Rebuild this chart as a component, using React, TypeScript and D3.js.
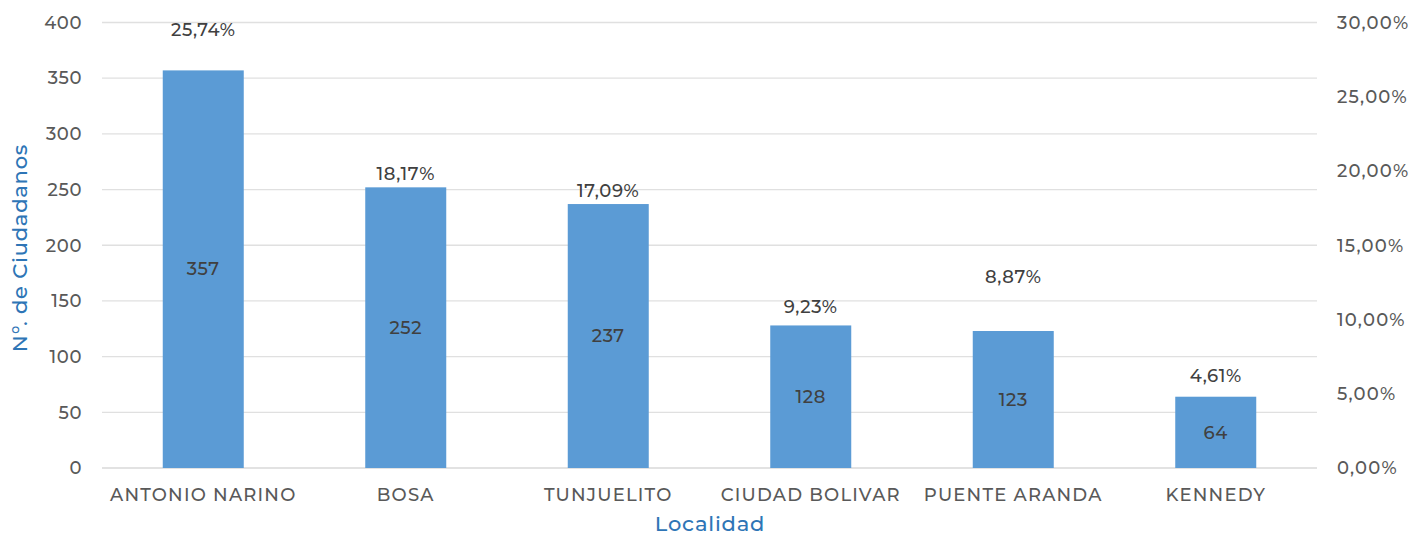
import React from "react";
import * as d3 from "d3";

const categories = ["ANTONIO NARINO", "BOSA", "TUNJUELITO", "CIUDAD BOLIVAR", "PUENTE ARANDA", "KENNEDY"];
const counts = [357, 252, 237, 128, 123, 64];
const percents = [25.74, 18.17, 17.09, 9.23, 8.87, 4.61];
const leftTicks = [0, 50, 100, 150, 200, 250, 300, 350, 400];
const rightTicks = [0, 5, 10, 15, 20, 25, 30];
// label placement tweaks (pixels above the secondary-axis point)
const pctLabelDy = [-56, -24, -24, -24, -60, -24];

const W = 1419, H = 535;
const M = { left: 102, right: 1317, top: 22.5, bottom: 468 };
const FONT = "Montserrat, 'Open Sans', 'Noto Sans', sans-serif";
const TXT = "#595959";
const BLUE = "#5B9BD5";
const TITLE = "#2E75B6";
const FS = 18;
const LS = 0.6;

export default function App() {
  const x = d3.scaleBand<string>().domain(categories).range([M.left, M.right]).paddingInner(0.6).paddingOuter(0.3);
  const y = d3.scaleLinear().domain([0, 400]).range([M.bottom, M.top]);
  const y2 = d3.scaleLinear().domain([0, 30]).range([M.bottom, M.top]);
  const fmt = (v: number) => v.toFixed(2).replace(".", ",") + "%";

  return (
    <svg width={W} height={H} style={{ position: "absolute", left: 0, top: 0, background: "#fff" }} fontFamily={FONT} fontWeight={500}>
      {leftTicks.map((t) => (
        <line key={"g" + t} x1={M.left} x2={M.right} y1={y(t)} y2={y(t)} stroke={t === 0 ? "#D9D9D9" : "#E0E0E0"} strokeWidth={1.3} />
      ))}
      {leftTicks.map((t) => (
        <text key={"l" + t} x={82} y={y(t)} dy="0.35em" textAnchor="end" fontSize={FS} letterSpacing={LS} fill={TXT}>{t}</text>
      ))}
      {rightTicks.map((t) => (
        <text key={"r" + t} x={1337} y={y2(t)} dy="0.35em" textAnchor="start" fontSize={FS} letterSpacing={1.2} fill={TXT}>{fmt(t)}</text>
      ))}
      {categories.map((c, i) => (
        <g key={c}>
          <rect x={x(c)} y={y(counts[i])} width={x.bandwidth()} height={y(0) - y(counts[i])} fill={BLUE} />
          <text x={x(c)! + x.bandwidth() / 2} y={(y(counts[i]) + y(0)) / 2} dy="0.35em" textAnchor="middle" fontSize={FS} letterSpacing={LS} fill="#404040">{counts[i]}</text>
          <text x={x(c)! + x.bandwidth() / 2} y={y2(percents[i]) + pctLabelDy[i]} dy="0.35em" textAnchor="middle" fontSize={FS} letterSpacing={LS} fill="#404040">{fmt(percents[i])}</text>
          <text x={x(c)! + x.bandwidth() / 2} y={495} dy="0.35em" textAnchor="middle" fontSize={FS} letterSpacing={1.2} fill={TXT}>{c}</text>
        </g>
      ))}
      <text transform={`translate(20,248) rotate(-90)`} textAnchor="middle" dy="0.35em" fontSize={21} letterSpacing={0.8} fill={TITLE}>N°. de Ciudadanos</text>
      <text x={710} y={524} dy="0.33em" textAnchor="middle" fontSize={21} letterSpacing={0.8} fill={TITLE}>Localidad</text>
    </svg>
  );
}
